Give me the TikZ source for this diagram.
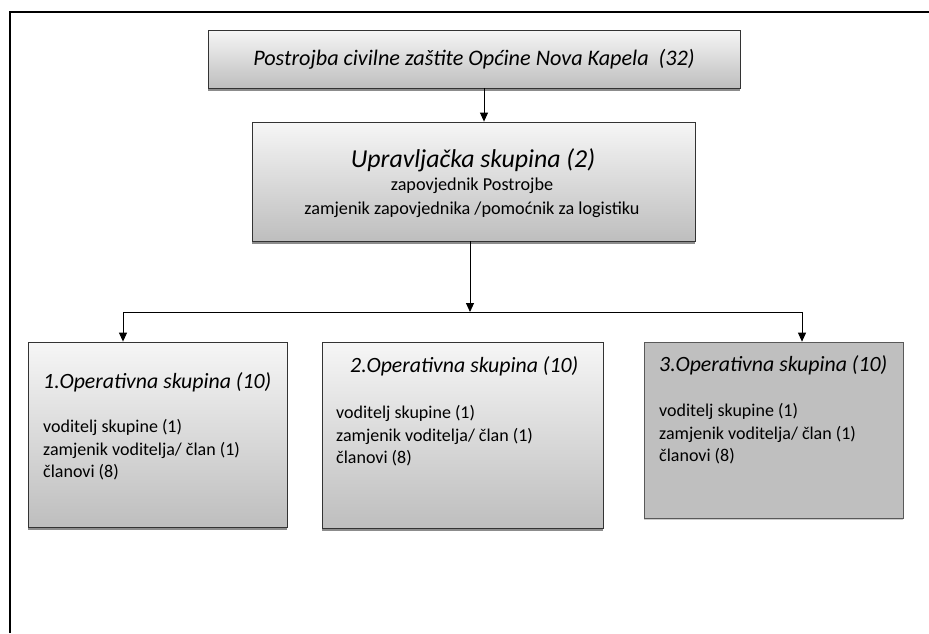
\documentclass[tikz,border=0pt]{standalone}
\usepackage{fontspec}
\setmainfont{Carlito}
\usetikzlibrary{arrows.meta,shadows}
\definecolor{boxtop}{RGB}{246,246,246}
\definecolor{boxbottom}{RGB}{190,190,190}
\definecolor{flatgray}{RGB}{191,191,191}
\tikzstyle{unit}=[rectangle,draw=black!80,line width=0.8pt,inner sep=0pt,top color=boxtop,bottom color=boxbottom,drop shadow={shadow xshift=0pt,shadow yshift=-2.5pt,fill=black!45,opacity=1}]
\tikzstyle{flatunit}=[rectangle,draw=black!65,line width=0.7pt,inner sep=0pt,fill=flatgray,drop shadow={shadow xshift=0pt,shadow yshift=-2pt,fill=black!20,opacity=1}]
\tikzstyle{title}=[inner sep=0pt,font=\fontsize{21.8}{26}\selectfont\itshape]
\tikzstyle{members}=[inner sep=0pt,align=left,font=\fontsize{18}{22.5}\selectfont]
\tikzstyle{link}=[-{Triangle[width=8pt,length=9pt]},line width=0.9pt]

\begin{document}
\begin{tikzpicture}[x=1pt,y=-1pt]
          \useasboundingbox (0,0) rectangle (929,633);
          \draw[line width=1.5pt] (10,633) -- (10,12) -- (929,12);

          \node[unit,minimum width=532pt,minimum height=58pt] at (474,59) (postrojba) {\fontsize{22.2}{26}\selectfont\itshape Postrojba civilne zaštite Općine Nova Kapela\ \ (32)};
          \node[unit,minimum width=443pt,minimum height=119pt] at (473.5,181.5) (uprava) {};
          \node[inner sep=0pt,font=\fontsize{25.8}{30}\selectfont\itshape] at (473,160) (upravaTitle) {Upravljačka skupina (2)};
          \node[inner sep=0pt,align=center,font=\fontsize{18.2}{24}\selectfont] at (472,198) (upravaMembers) {zapovjednik Postrojbe\\zamjenik zapovjednika /pomoćnik za logistiku};

          \node[unit,minimum width=259pt,minimum height=185pt] at (157.5,434.5) (ops1) {};
          \node[unit,minimum width=281pt,minimum height=186pt] at (462.5,435) (ops2) {};
          \node[flatunit,minimum width=259pt,minimum height=176pt] at (773.5,430) (ops3) {};

          \node[title,anchor=west] at (43,382) (ops1Title) {1.Operativna skupina (10)};
          \node[members,anchor=west] at (43,450) (ops1Members) {voditelj skupine (1)\\zamjenik voditelja/ član (1)\\članovi (8)};
          \node[title,anchor=west] at (350,366) (ops2Title) {2.Operativna skupina (10)};
          \node[members,anchor=west] at (336,436) (ops2Members) {voditelj skupine (1)\\zamjenik voditelja/ član (1)\\članovi (8)};
          \node[title,anchor=west] at (659,365) (ops3Title) {3.Operativna skupina (10)};
          \node[members,anchor=west] at (659,434) (ops3Members) {voditelj skupine (1)\\zamjenik voditelja/ član (1)\\članovi (8)};

          \coordinate (split) at (470,312);
          \draw[link] ([xshift=10pt]postrojba.south) -- ([xshift=10pt]postrojba.south |- uprava.north);
          \draw[link] ([xshift=-3.5pt]uprava.south) -- (split);
          \draw[link] (split) -| ([xshift=-34.5pt]ops1.north);
          \draw[link] (split) -| ([xshift=28.5pt]ops3.north);
        \end{tikzpicture}
\end{document}
